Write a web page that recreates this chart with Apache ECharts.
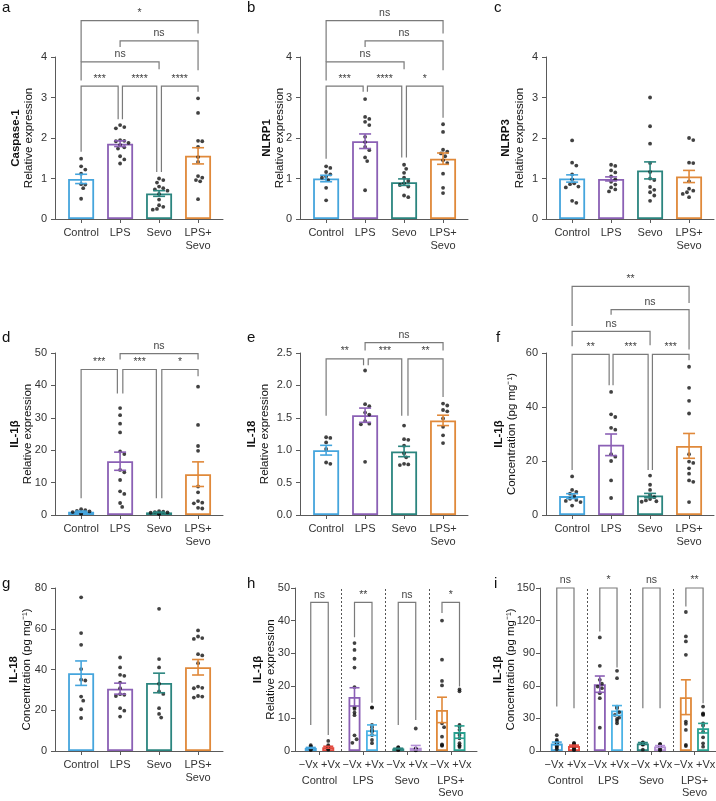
<!DOCTYPE html>
<html>
<head>
<meta charset="utf-8">
<script src="https://cdn.jsdelivr.net/npm/echarts@6/dist/echarts.min.js"></script>
<style>
  html, body { margin: 0; padding: 0; background: #fff; }
  #chart { width: 716px; height: 801px; }
</style>
</head>
<body>
<div id="chart"></div>
<script>
// categories and colours
const cats = ["Control", "LPS", "Sevo", "LPS+\nSevo"];
const groupColors = ["#45a5dd", "#8b60b5", "#2b857f", "#e0893a"];
const vxColors = ["#45a5dd", "#e2483d", "#8b60b5", "#4cb3e6", "#2b857f", "#b48fd6", "#e0893a", "#28a08f"];
const vxPos = [-0.2, 0.2, 0.8, 1.2, 1.8, 2.2, 2.8, 3.2];
const vxLabel = "\u2212Vx +Vx";

// a - Caspase-1
const aMean = [0.99, 1.86, 0.63, 1.56];
const aSem = [0.115, 0.07, 0.07, 0.2];
const aPts = [
  [1.49, 1.30, 1.22, 1.12, 0.86, 0.85, 0.76, 0.50],
  [2.32, 2.27, 2.24, 1.95, 1.93, 1.92, 1.88, 1.83, 1.77, 1.74, 1.55, 1.47, 1.37],
  [1.00, 0.96, 0.90, 0.80, 0.76, 0.73, 0.70, 0.62, 0.48, 0.34, 0.30, 0.25, 0.23],
  [2.98, 2.62, 1.93, 1.92, 1.78, 1.53, 1.41, 1.06, 1.02, 0.96, 0.93, 0.49]
];
const aBr = [[0, 0.95, 3.28, 1.66, 2.46], [1.06, 1.94, 3.28, 2.46, 1.16], [2.06, 3, 3.28, 1.16, 3.14],
  [0, 2, 3.88, 3.42, 3.70], [1, 3, 4.40, 4.25, 3.67], [0, 3, 4.90, 3.88, 4.58]];
const aBrText = ["***", "****", "****", "ns", "ns", "*"];

// b - NLRP1
const bMean = [1.0, 1.92, 0.91, 1.49];
const bSem = [0.08, 0.18, 0.08, 0.14];
const bPts = [
  [1.30, 1.26, 1.16, 1.10, 1.05, 1.02, 0.96, 0.77, 0.46],
  [2.96, 2.52, 2.47, 2.40, 2.32, 2.03, 1.90, 1.78, 1.70, 1.52, 1.43, 0.71],
  [1.34, 1.24, 1.14, 1.02, 0.94, 0.88, 0.84, 0.80, 0.58, 0.54],
  [2.34, 2.15, 1.71, 1.66, 1.62, 1.55, 1.45, 1.38, 1.12, 0.77, 0.64]
];
const bBr = [[0, 0.95, 3.28, 1.49, 3.14], [1.06, 1.94, 3.28, 3.14, 1.52], [2.06, 3, 3.28, 1.52, 2.5],
  [0, 2, 3.88, 3.42, 3.70], [1, 3, 4.40, 4.25, 3.67], [0, 3, 4.90, 3.88, 4.58]];
const bBrText = ["***", "****", "*", "ns", "ns", "ns"];

// c - NLRP3
const cMean = [1.0, 0.99, 1.2, 1.05];
const cSem = [0.09, 0.05, 0.21, 0.15];
const cPts = [
  [1.94, 1.39, 1.32, 1.10, 0.98, 0.88, 0.86, 0.80, 0.78, 0.45, 0.40],
  [1.34, 1.31, 1.20, 1.15, 1.05, 0.98, 0.92, 0.85, 0.78, 0.73, 0.68],
  [3.0, 2.29, 1.86, 1.38, 1.16, 1.0, 0.96, 0.79, 0.72, 0.66, 0.58, 0.45],
  [2.0, 1.95, 1.39, 1.38, 0.93, 0.75, 0.70, 0.66, 0.62, 0.54]
];

// d - IL-1β relative expression
const dMean = [1.0, 16.6, 0.8, 12.6];
const dSem = [0.2, 2.8, 0.1, 3.8];
const dPts = [
  [1.8, 1.5, 1.3, 1.1, 0.9, 0.7, 0.5, 0.4],
  [33.0, 30.8, 28.2, 25.5, 19.6, 18.8, 13.9, 13.2, 10.8, 7.3, 6.5, 3.7, 2.5],
  [1.2, 1.0, 0.9, 0.8, 0.7, 0.6, 0.5, 0.4, 0.3],
  [39.6, 27.8, 21.3, 19.8, 8.8, 7.0, 4.3, 3.8, 3.6, 2.2, 2.0]
];
const dBr = [[0, 0.93, 44.9, 5.2, 37.5], [1.07, 1.93, 44.9, 37.5, 5.2], [2.07, 3, 44.9, 5.2, 42.8],
  [1, 3, 49.8, 48, 48]];
const dBrText = ["***", "***", "*", "ns"];

// e - IL-18 relative expression
const eMean = [1.0, 1.54, 0.98, 1.46];
const eSem = [0.075, 0.11, 0.08, 0.08];
const ePts = [
  [1.20, 1.19, 1.12, 1.02, 0.81, 0.79],
  [2.23, 1.71, 1.68, 1.58, 1.55, 1.45, 1.41, 1.40, 0.82],
  [1.38, 1.17, 1.16, 1.07, 0.95, 0.89, 0.79, 0.78, 0.77],
  [1.72, 1.69, 1.62, 1.60, 1.49, 1.36, 1.23, 1.11]
];
const eBr = [[0, 0.96, 2.41, 1.53, 2.31], [1.08, 1.94, 2.41, 2.31, 1.53], [2.1, 3, 2.41, 1.53, 1.82],
  [1, 3, 2.66, 2.54, 2.54]];
const eBrText = ["**", "***", "**", "ns"];

// f - IL-1β concentration
const fMean = [7.0, 26.0, 7.2, 25.6];
const fSem = [0.9, 4.0, 0.8, 4.6];
const fPts = [
  [14.3, 9.3, 8.6, 7.9, 7.0, 6.0, 5.6, 5.2, 4.8, 3.5],
  [45.6, 37.3, 36.3, 32.3, 31.6, 22.5, 21.6, 20.0, 12.8, 6.3],
  [14.6, 11.2, 9.3, 7.5, 6.6, 5.9, 5.4, 5.1, 4.9],
  [54.9, 47.1, 42.3, 37.6, 22.5, 19.8, 19.3, 17.3, 15.3, 12.8, 12.3, 4.8]
];
const fBr = [[0, 0.95, 59.5, 16.7, 48.1], [1.05, 1.95, 59.5, 48.1, 16.7], [2.06, 3, 59.5, 16.7, 57.3],
  [0, 2, 68.0, 62.5, 62.9], [1, 3, 76.1, 74.2, 61.3], [0, 3, 84.7, 70, 78.5]];
const fBrText = ["**", "***", "***", "ns", "ns", "**"];

// g - IL-18 concentration
const gMean = [38.2, 30.6, 33.4, 41.1];
const gSem = [6.0, 2.7, 4.8, 3.8];
const gPts = [
  [75.4, 57.9, 52.1, 40.2, 35.0, 34.6, 26.7, 24.7, 20.5, 16.2],
  [45.9, 41.0, 37.4, 36.9, 33.6, 30.8, 27.9, 27.6, 27.0, 21.0, 19.8, 16.9],
  [69.8, 45.1, 41.0, 33.0, 29.2, 28.0, 21.0, 18.2, 16.4],
  [59.2, 56.2, 55.4, 55.0, 47.5, 46.9, 43.1, 31.6, 31.0, 30.8, 27.0, 26.7, 26.2]
];

// h - IL-1β relative expression, −Vx / +Vx
const hMean = [0.95, 1.15, 16.6, 6.4, 0.75, 1.0, 12.6, 5.8];
const hSem = [0.15, 0.3, 2.8, 1.6, 0.1, 0.7, 3.9, 1.9];
const hPts = [
  [1.8, 1.4, 1.2, 1.0, 0.8, 0.6, 0.5, 0.3],
  [3.1, 1.8, 1.5, 1.2, 1.0, 0.8, 0.6, 0.4],
  [33.1, 31.0, 28.3, 25.6, 19.6, 13.4, 12.9, 11.8, 11.0, 4.8, 3.6, 2.5],
  [13.4, 13.3, 8.0, 7.3, 6.5, 5.9, 4.9, 3.4, 2.4],
  [1.2, 1.0, 0.9, 0.7, 0.6, 0.5, 0.4, 0.3],
  [6.9, 0.8, 0.6, 0.5, 0.4, 0.3, 0.3, 0.2],
  [40.0, 28.0, 21.5, 20.1, 8.5, 7.3, 4.4, 2.0, 1.8, 1.6],
  [18.9, 18.3, 8.0, 7.5, 6.5, 4.9, 3.9, 2.4, 1.8, 1.5, 1.2]
];
const hBr = [[-0.2, 0.2, 45.6, 8.0, 4.9], [0.8, 1.2, 45.6, 34.9, 14.8], [1.8, 2.2, 45.6, 8.0, 9.5],
  [2.8, 3.2, 45.6, 42.3, 19.8]];
const hBrText = ["ns", "**", "ns", "*"];

// i - IL-1β concentration, −Vx / +Vx
const iMean = [7.0, 4.6, 61.5, 37.3, 7.0, 4.2, 49.5, 21.0];
const iSem = [1.2, 0.8, 7.5, 4.5, 0.8, 0.8, 16, 4.4];
const iPts = [
  [14.5, 10.2, 9.0, 8.1, 7.2, 6.0, 5.0, 4.1, 3.0, 1.5],
  [7.5, 6.8, 6.0, 5.5, 4.5, 3.5, 2.5, 1.5, 0.8],
  [104.5, 78.4, 65.5, 62.0, 59.3, 57.8, 53.2, 48.6, 21.5],
  [73.8, 67.0, 40.9, 39.4, 35.7, 33.2, 30.7, 29.5, 27.7, 25.5],
  [8.0, 7.6, 7.2, 7.0, 6.6, 6.2, 5.8, 1.2],
  [6.5, 6.0, 5.5, 5.2, 4.0, 2.5, 1.0, 0.6],
  [127.9, 105.4, 100.8, 88.5, 27.1, 25.0, 19.4, 5.5, 4.6],
  [40.9, 34.7, 33.8, 33.2, 25.5, 23.4, 17.8, 12.6, 7.1, 4.0]
];
const iBr = [[-0.2, 0.2, 150, 40.9, 39.3], [0.8, 1.2, 150, 110, 76.8], [1.8, 2.2, 150, 39.3, 39.3],
  [2.8, 3.2, 150, 133, 44]];
const iBrText = ["ns", "*", "ns", "**"];

const FONT = "Liberation Sans, Arial, sans-serif";
const relExpr = "Relative expression";
const conc = "Concentration (pg mg\u207B\u00B9)";

const panels = [
  { letter: "a", lx: 2, ly: 0, left: 55, top: 57, width: 168, height: 162, xMin: -0.67, xMax: 3.64, yMax: 4, yInt: 1, title: "Caspase-1", sub: relExpr, gap: 19, mean: aMean, sem: aSem, pts: aPts, br: aBr, brText: aBrText },
  { letter: "b", lx: 247, ly: 0, left: 300, top: 57, width: 168, height: 162, xMin: -0.67, xMax: 3.64, yMax: 4, yInt: 1, title: "NLRP1", sub: relExpr, gap: 13, mean: bMean, sem: bSem, pts: bPts, br: bBr, brText: bBrText },
  { letter: "c", lx: 494, ly: 0, left: 546, top: 57, width: 168, height: 162, xMin: -0.67, xMax: 3.64, yMax: 4, yInt: 1, title: "NLRP3", sub: relExpr, gap: 19.5, mean: cMean, sem: cSem, pts: cPts, br: [], brText: [] },
  { letter: "d", lx: 2, ly: 330, left: 55, top: 353, width: 168, height: 162, xMin: -0.67, xMax: 3.64, yMax: 50, yInt: 10, title: "IL-1\u03B2", sub: relExpr, gap: 20, mean: dMean, sem: dSem, pts: dPts, br: dBr, brText: dBrText },
  { letter: "e", lx: 247, ly: 330, left: 300, top: 353, width: 168, height: 162, xMin: -0.67, xMax: 3.64, yMax: 2.5, yInt: 0.5, dec: 1, title: "IL-18", sub: relExpr, gap: 28, mean: eMean, sem: eSem, pts: ePts, br: eBr, brText: eBrText },
  { letter: "f", lx: 496, ly: 330, left: 546, top: 353, width: 168, height: 162, xMin: -0.67, xMax: 3.64, yMax: 60, yInt: 20, title: "IL-1\u03B2", sub: conc, gap: 27, mean: fMean, sem: fSem, pts: fPts, br: fBr, brText: fBrText },
  { letter: "g", lx: 2, ly: 576, left: 55, top: 588, width: 168, height: 163, xMin: -0.67, xMax: 3.64, yMax: 80, yInt: 20, title: "IL-18", sub: conc, gap: 21, mean: gMean, sem: gSem, pts: gPts, br: [], brText: [] },
  { letter: "h", lx: 247, ly: 576, left: 295, top: 588, width: 182, height: 163, xMin: -0.56, xMax: 3.6, yMax: 50, yInt: 10, labelMargin: 5, title: "IL-1\u03B2", sub: relExpr, gap: 17, mean: hMean, sem: hSem, pts: hPts, br: hBr, brText: hBrText, vx: true },
  { letter: "i", lx: 494, ly: 576, left: 540, top: 588, width: 176, height: 163, xMin: -0.59, xMax: 3.5, yMax: 150, yInt: 30, labelMargin: 5, title: "IL-1\u03B2", sub: conc, gap: 22, mean: iMean, sem: iSem, pts: iPts, br: iBr, brText: iBrText, vx: true }
];

// simple beeswarm: spread points sideways where they would overlap
function swarm(vals, center, pxX, pxY, d, maxOff) {
  const placed = [];
  const out = [];
  const order = vals.map((v, i) => i).sort((p, q) => vals[q] - vals[p]);
  order.forEach((i) => {
    const y = vals[i] * pxY;
    let off = 0;
    for (let k = 0; k < 30; k++) {
      const cand = k === 0 ? 0 : (k % 2 ? 1 : -1) * Math.ceil(k / 2) * d * 0.5;
      if (Math.abs(cand) > maxOff) continue;
      const hit = placed.some((p) => (p.x - cand) ** 2 + (p.y - y) ** 2 < d * d);
      if (!hit) { off = cand; break; }
    }
    placed.push({ x: off, y: y });
    out[i] = [center + off / pxX, vals[i]];
  });
  return out;
}

const grids = [], xAxes = [], yAxes = [], series = [], graphics = [];
const axisGrey = "#5a5a5a";

panels.forEach((p, idx) => {
  const pos = p.vx ? vxPos : [0, 1, 2, 3];
  const colors = p.vx ? vxColors : groupColors;
  const pxX = p.width / (p.xMax - p.xMin);
  const pxY = p.height / p.yMax;
  const barW = p.vx ? 12 : 26;

  grids.push({ left: p.left, top: p.top, width: p.width, height: p.height, containLabel: false, outerBoundsMode: "none" });

  const xi = xAxes.length;
  xAxes.push({
    type: "value", gridIndex: idx, min: p.xMin, max: p.xMax, position: "bottom",
    splitLine: { show: false },
    axisLine: { onZero: false, lineStyle: { color: axisGrey, width: 1 } },
    axisTick: { customValues: p.vx ? [0, 1, 2, 3] : pos, length: 4, lineStyle: { color: axisGrey } },
    axisLabel: {
      customValues: p.vx ? [0, 1, 2, 3] : pos, margin: 7, color: "#333", fontSize: 11, fontFamily: FONT, lineHeight: 13,
      hideOverlap: false, showMinLabel: true, showMaxLabel: true,
      formatter: p.vx ? () => vxLabel : (v) => cats[Math.round(v)]
    }
  });
  if (p.vx) {
    xAxes.push({
      type: "value", gridIndex: idx, min: p.xMin, max: p.xMax, position: "bottom",
      splitLine: { show: false }, axisLine: { show: false, onZero: false }, axisTick: { show: false },
      axisLabel: {
        customValues: [0, 1, 2, 3], margin: 24, color: "#333", fontSize: 11, fontFamily: FONT, lineHeight: 12,
        hideOverlap: false, showMinLabel: true, showMaxLabel: true,
        formatter: (v) => cats[Math.round(v)]
      }
    });
  }

  yAxes.push({
    type: "value", gridIndex: idx, min: 0, max: p.yMax, interval: p.yInt,
    splitLine: { show: false },
    axisLine: { show: true, onZero: false, lineStyle: { color: axisGrey, width: 1 } },
    axisTick: { show: true, length: 4, lineStyle: { color: axisGrey } },
    axisLabel: { margin: p.labelMargin || 8, color: "#333", fontSize: 11, fontFamily: FONT, formatter: (v) => (p.dec ? v.toFixed(p.dec) : String(v)) },
    name: "{t|" + p.title + "}\n{s|" + p.sub + "}",
    nameLocation: "middle", nameGap: p.gap, nameMoveOverlap: false,
    nameTextStyle: {
      fontFamily: FONT,
      rich: {
        t: { fontSize: 11.5, fontWeight: "bold", color: "#111", lineHeight: 13.5, fontFamily: FONT },
        s: { fontSize: 11.5, color: "#111", lineHeight: 13.5, fontFamily: FONT }
      }
    }
  });

  // bars
  series.push({
    type: "bar", xAxisIndex: xi, yAxisIndex: idx, barWidth: barW, z: 2,
    data: p.mean.map((m, k) => ({ value: [pos[k], m], itemStyle: { color: "#fff", borderColor: colors[k], borderWidth: 1.8 } }))
  });

  // dots
  const dots = [];
  p.pts.forEach((vals, k) => {
    swarm(vals, pos[k], pxX, pxY, 4.2, barW / 2 - 2).forEach((d) => dots.push(d));
  });
  const scatter = {
    type: "scatter", xAxisIndex: xi, yAxisIndex: idx, symbolSize: 3.8, z: 3,
    itemStyle: { color: "#111" }, data: dots
  };
  if (p.vx) {
    scatter.markLine = {
      silent: true, symbol: "none", label: { show: false },
      lineStyle: { color: "#555", type: [2, 2], width: 1 },
      data: [{ xAxis: 0.5 }, { xAxis: 1.5 }, { xAxis: 2.5 }]
    };
  }
  series.push(scatter);

  // error bars (mean ± SEM)
  const cap = p.vx ? 5 : 6;
  series.push({
    type: "custom", xAxisIndex: xi, yAxisIndex: idx, z: 4,
    encode: { x: 0, y: [1, 2] },
    data: p.mean.map((m, k) => ({ value: [pos[k], m - p.sem[k], m + p.sem[k]], itemStyle: { color: colors[k] } })),
    renderItem: (params, api) => {
      const lo = api.coord([api.value(0), api.value(1)]);
      const hi = api.coord([api.value(0), api.value(2)]);
      const st = { stroke: api.visual("color"), lineWidth: 1.6 };
      return {
        type: "group", children: [
          { type: "line", shape: { x1: lo[0], y1: lo[1], x2: hi[0], y2: hi[1] }, style: st },
          { type: "line", shape: { x1: hi[0] - cap, y1: hi[1], x2: hi[0] + cap, y2: hi[1] }, style: st },
          { type: "line", shape: { x1: lo[0] - cap, y1: lo[1], x2: lo[0] + cap, y2: lo[1] }, style: st }
        ]
      };
    }
  });

  // significance brackets
  if (p.br.length) {
    series.push({
      type: "custom", xAxisIndex: xi, yAxisIndex: idx, z: 5, clip: false,
      encode: { x: [0, 1], y: [2, 3, 4] },
      data: p.br,
      renderItem: (params, api) => {
        const a1 = api.coord([api.value(0), api.value(3)]);
        const t1 = api.coord([api.value(0), api.value(2)]);
        const t2 = api.coord([api.value(1), api.value(2)]);
        const a2 = api.coord([api.value(1), api.value(4)]);
        return {
          type: "group", children: [
            { type: "polyline", shape: { points: [a1, t1, t2, a2] }, style: { stroke: "#7a7a7a", lineWidth: 1.2, fill: null } },
            { type: "text", style: { text: p.brText[params.dataIndex], x: (t1[0] + t2[0]) / 2, y: t1[1] - 2, align: "center", verticalAlign: "bottom", fontSize: 10.5, fontFamily: FONT, fill: "#444" } }
          ]
        };
      }
    });
  }

  graphics.push({ type: "text", left: p.lx, top: p.ly, style: { text: p.letter, fontSize: 15, fontFamily: FONT, fill: "#111" } });
});

const chart = echarts.init(document.getElementById("chart"), null, { renderer: "canvas" });
chart.setOption({
  animation: false,
  backgroundColor: "#fff",
  textStyle: { fontFamily: FONT },
  grid: grids,
  xAxis: xAxes,
  yAxis: yAxes,
  series: series,
  graphic: graphics
});
</script>
</body>
</html>
